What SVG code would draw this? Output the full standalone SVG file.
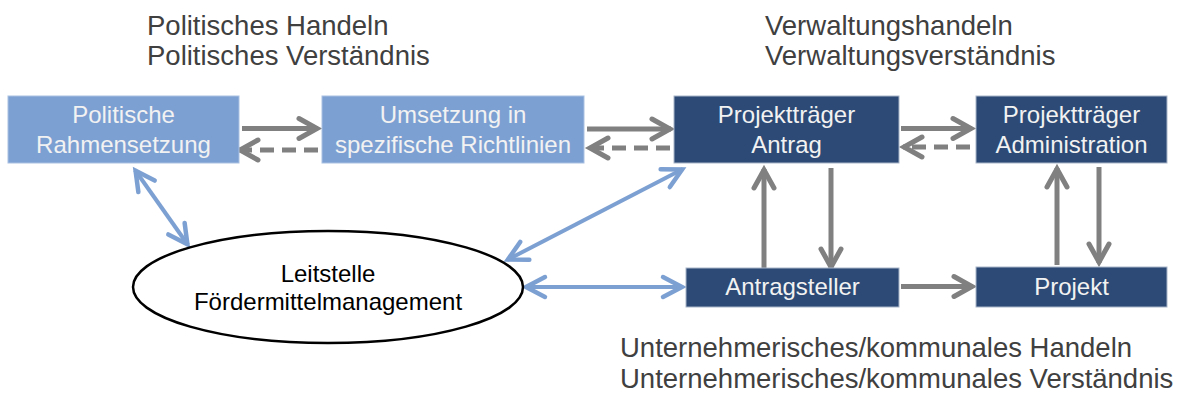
<svg xmlns="http://www.w3.org/2000/svg" width="1185" height="396" viewBox="0 0 1185 396">
<defs>
<style>
.hdr{font-family:"Liberation Sans",Arial,sans-serif;font-size:27.5px;fill:#404040}
.bt{font-family:"Liberation Sans",Arial,sans-serif;font-size:24px;fill:#f2f2f2;text-anchor:middle}
.et{font-family:"Liberation Sans",Arial,sans-serif;font-size:24px;fill:#000;text-anchor:middle}
.light{fill:#7da0d2;stroke:#a9c0e2;stroke-width:1}
.dark{fill:#2c4a75;stroke:#aab6c8;stroke-width:1}
.g{stroke:#808080;stroke-width:5;fill:none;marker-end:url(#ag)}
.gd{stroke:#808080;stroke-width:5;fill:none;stroke-dasharray:14 8;marker-end:url(#ag)}
.b{stroke:#7da0d2;stroke-width:4;fill:none;marker-start:url(#abs);marker-end:url(#ab)}
</style>
<marker id="ag" markerUnits="userSpaceOnUse" markerWidth="30" markerHeight="30" viewBox="-25 -15 30 30" refX="0" refY="0" orient="auto">
<path d="M-19,-10 L-1,0 L-19,10" fill="none" stroke="#808080" stroke-width="5" stroke-linecap="round" stroke-linejoin="miter"/>
</marker>
<marker id="ab" markerUnits="userSpaceOnUse" markerWidth="30" markerHeight="30" viewBox="-25 -15 30 30" refX="0" refY="0" orient="auto">
<path d="M-20,-10 L-1,0 L-20,10" fill="none" stroke="#7da0d2" stroke-width="4.5" stroke-linecap="round"/>
</marker>
<marker id="abs" markerUnits="userSpaceOnUse" markerWidth="30" markerHeight="30" viewBox="-25 -15 30 30" refX="0" refY="0" orient="auto-start-reverse">
<path d="M-20,-10 L-1,0 L-20,10" fill="none" stroke="#7da0d2" stroke-width="4.5" stroke-linecap="round"/>
</marker>
</defs>
<rect width="1185" height="396" fill="#fff"/>

<g id="headings">
<text class="hdr" x="147" y="35">Politisches Handeln</text>
<text class="hdr" x="147" y="65">Politisches Verständnis</text>
<text class="hdr" x="765" y="35">Verwaltungshandeln</text>
<text class="hdr" x="765" y="65">Verwaltungsverständnis</text>
<text class="hdr" x="620" y="357">Unternehmerisches/kommunales Handeln</text>
<text class="hdr" x="620" y="388">Unternehmerisches/kommunales Verständnis</text>
</g>

<g id="connectors">
<line class="g" x1="242" y1="128.5" x2="318" y2="128.5"/>
<line class="gd" x1="318" y1="150" x2="239" y2="150"/>
<line class="g" x1="587" y1="129" x2="671" y2="129"/>
<line class="gd" x1="670" y1="148" x2="589" y2="148"/>
<line class="g" x1="901" y1="128.5" x2="972" y2="128.5"/>
<line class="gd" x1="970" y1="147" x2="903" y2="147"/>
<line class="g" x1="764" y1="270" x2="764" y2="169"/>
<line class="g" x1="831" y1="168" x2="831" y2="268"/>
<line class="g" x1="901" y1="286.5" x2="973" y2="286.5"/>
<line class="g" x1="1057" y1="265" x2="1057" y2="168"/>
<line class="g" x1="1099" y1="167" x2="1099" y2="263"/>
<line class="b" x1="135" y1="170" x2="188" y2="245"/>
<line class="b" x1="507" y1="260" x2="683" y2="169"/>
<line class="b" x1="525" y1="287" x2="683" y2="287"/>
</g>

<g id="node-politische-rahmensetzung">
<rect class="light" x="8" y="96" width="231" height="67"/>
<text class="bt" x="123.5" y="123">Politische</text>
<text class="bt" x="123.5" y="153">Rahmensetzung</text>
</g>
<g id="node-umsetzung">
<rect class="light" x="322" y="96" width="262" height="67"/>
<text class="bt" x="453" y="123">Umsetzung in</text>
<text class="bt" x="453" y="153">spezifische Richtlinien</text>
</g>
<g id="node-projekttraeger-antrag">
<rect class="dark" x="674" y="96" width="225" height="67"/>
<text class="bt" x="786.5" y="123">Projektträger</text>
<text class="bt" x="786.5" y="153">Antrag</text>
</g>
<g id="node-projekttraeger-administration">
<rect class="dark" x="976" y="96" width="191" height="67"/>
<text class="bt" x="1071.5" y="123">Projektträger</text>
<text class="bt" x="1071.5" y="153">Administration</text>
</g>
<g id="node-antragsteller">
<rect class="dark" x="686" y="268" width="213" height="39"/>
<text class="bt" x="792.5" y="295">Antragsteller</text>
</g>
<g id="node-projekt">
<rect class="dark" x="976" y="267" width="191" height="40"/>
<text class="bt" x="1071.5" y="295">Projekt</text>
</g>
<g id="node-leitstelle">
<ellipse cx="328" cy="287" rx="195" ry="56" fill="#fff" stroke="#000" stroke-width="2.5"/>
<text class="et" x="328" y="282">Leitstelle</text>
<text class="et" x="328" y="310">Fördermittelmanagement</text>
</g>
</svg>
